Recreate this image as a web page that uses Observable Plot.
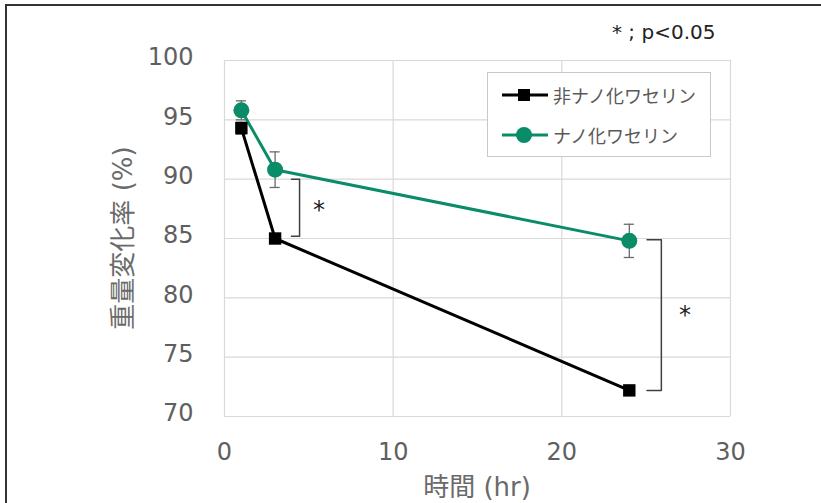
<!DOCTYPE html>
<html>
<head>
<meta charset="utf-8">
<script src="https://cdn.jsdelivr.net/npm/d3@7"></script>
<script src="https://cdn.jsdelivr.net/npm/@observablehq/plot@0.6"></script>
<style>
  html, body { margin: 0; padding: 0; background: #fff; }
  #wrap { position: relative; width: 821px; height: 503px; overflow: hidden;
          font-family: "DejaVu Sans", "Noto Sans CJK JP", sans-serif; }
  #frame { position: absolute; left: 5px; top: 4px; right: -20px; bottom: -20px;
           border-top: 2px solid #333; border-left: 2px solid #333; pointer-events: none; }
  #chart { position: absolute; left: 0; top: 0; }
  #note { position: absolute; left: 612px; top: 20px; font-family: "DejaVu Sans", sans-serif;
          font-size: 20px; color: #222; white-space: nowrap; }
  #ylab { position: absolute; left: 120px; top: 238px; transform: translate(-50%, -50%) rotate(-90deg);
          font-size: 26px; color: #6a6a6a; white-space: nowrap; }
  #xlab { position: absolute; left: 477px; top: 484px; transform: translate(-50%, -50%);
          font-size: 26px; color: #6a6a6a; white-space: nowrap; }
  #legend { position: absolute; left: 487px; top: 72px; width: 224px; height: 85px;
            border: 1px solid #c8c8c8; background: #fff; box-sizing: border-box; }
  .item { position: absolute; left: 14px; display: flex; align-items: center;
          font-size: 18px; color: #595959; white-space: nowrap; }
  .item svg { margin-right: 5px; }
</style>
</head>
<body>
<div id="wrap">
  <div id="chart"></div>
  <div id="note">* ; p&lt;0.05</div>
  <div id="ylab">重量変化率 (%)</div>
  <div id="xlab">時間 (hr)</div>
  <div id="legend"></div>
  <div id="frame"></div>
</div>
<script>
// ---- data ----
const seriesNames = ["非ナノ化ワセリン", "ナノ化ワセリン"];
const seriesColors = ["#000000", "#0a8c68"];
const hours = [1, 3, 24];
const nonNanoValues = [94.3, 85.0, 72.2];
const nonNanoErrors = [0.5, 0.4, 0.3];
const nanoValues = [95.8, 90.8, 84.8];
const nanoErrors = [0.8, 1.5, 1.4];
const xTicks = [0, 10, 20, 30];
const yTicks = [70, 75, 80, 85, 90, 95, 100];
// significance brackets: inner x, outer (vertical) x, top y, bottom y, star position
const bracketInnerX = [3.97, 25.05];
const bracketOuterX = [4.45, 25.9];
const bracketTopY = [90.0, 84.9];
const bracketBottomY = [85.2, 72.2];
const starX = [5.6, 27.3];
const starY = [87.4, 78.5];

// ---- derived tables ----
const rows = [];
hours.forEach((h, i) => {
  rows.push({series: seriesNames[0], x: h, y: nonNanoValues[i], e: nonNanoErrors[i]});
  rows.push({series: seriesNames[1], x: h, y: nanoValues[i], e: nanoErrors[i]});
});
const nonNano = rows.filter(d => d.series === seriesNames[0]);
const nano = rows.filter(d => d.series === seriesNames[1]);
const bracketPts = [];
bracketInnerX.forEach((xi, i) => {
  const xo = bracketOuterX[i];
  bracketPts.push({b: i, x: xi, y: bracketTopY[i]});
  bracketPts.push({b: i, x: xo, y: bracketTopY[i]});
  bracketPts.push({b: i, x: xo, y: bracketBottomY[i]});
  bracketPts.push({b: i, x: xi, y: bracketBottomY[i]});
});
const stars = starX.map((x, i) => ({x, y: starY[i]}));
const capHalf = 0.3;

const chart = Plot.plot({
  width: 821,
  height: 503,
  marginLeft: 224,
  marginRight: 91,
  marginTop: 60,
  marginBottom: 87,
  style: {background: "transparent", color: "#595959", fontFamily: "'DejaVu Sans', 'Noto Sans CJK JP', sans-serif"},
  x: {domain: [0, 30]},
  y: {domain: [70, 100]},
  marks: [
    Plot.ruleX(xTicks, {stroke: "#d9d9d9", strokeWidth: 1.2}),
    Plot.ruleY(yTicks, {stroke: "#d9d9d9", strokeWidth: 1.2}),
    Plot.axisX({ticks: xTicks, tickSize: 0, tickPadding: 26, fontSize: 24, label: null, tickFormat: d => d, fill: "#5f5f5f"}),
    Plot.axisY({ticks: yTicks, tickSize: 0, tickPadding: 31, fontSize: 24, label: null, tickFormat: d => d, fill: "#5f5f5f", dy: -3}),
    // error bars
    Plot.ruleX(rows, {x: "x", y1: d => d.y - d.e, y2: d => d.y + d.e, stroke: "#6b6b6b", strokeWidth: 1.3}),
    Plot.ruleY(rows, {y: d => d.y + d.e, x1: d => d.x - capHalf, x2: d => d.x + capHalf, stroke: "#6b6b6b", strokeWidth: 1.3}),
    Plot.ruleY(rows, {y: d => d.y - d.e, x1: d => d.x - capHalf, x2: d => d.x + capHalf, stroke: "#6b6b6b", strokeWidth: 1.3}),
    // lines
    Plot.line(nonNano, {x: "x", y: "y", stroke: seriesColors[0], strokeWidth: 3}),
    Plot.line(nano, {x: "x", y: "y", stroke: seriesColors[1], strokeWidth: 3}),
    Plot.dot(nonNano, {x: "x", y: "y", symbol: "square", r: 7, fill: seriesColors[0], stroke: "none"}),
    Plot.dot(nano, {x: "x", y: "y", symbol: "circle", r: 8, fill: seriesColors[1], stroke: "none"}),
    // brackets
    Plot.line(bracketPts, {x: "x", y: "y", z: "b", stroke: "#404040", strokeWidth: 1.5}),
    Plot.text(stars, {x: "x", y: "y", text: () => "*", fontSize: 24, fill: "#222"})
  ]
});
document.getElementById("chart").appendChild(chart);

// legend
const legend = document.getElementById("legend");
seriesNames.forEach((name, i) => {
  const item = document.createElement("div");
  item.className = "item";
  item.style.top = (i === 0 ? 9 : 49) + "px";
  const sym = i === 0
    ? `<rect x="16" y="7" width="12" height="12" fill="${seriesColors[i]}"/>`
    : `<circle cx="22" cy="13" r="8" fill="${seriesColors[i]}"/>`;
  item.innerHTML = `<svg width="46" height="26"><line x1="0" x2="46" y1="13" y2="13" stroke="${seriesColors[i]}" stroke-width="3"/>${sym}</svg><span>${name}</span>`;
  legend.appendChild(item);
});
</script>
</body>
</html>
